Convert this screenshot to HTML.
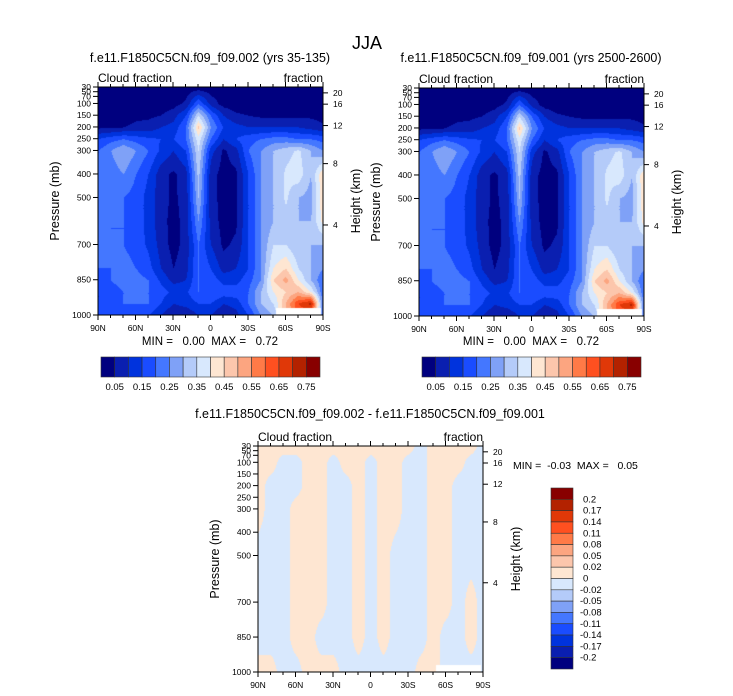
<!DOCTYPE html>
<html><head><meta charset="utf-8"><style>
body{margin:0;background:#fff;width:733px;height:696px;overflow:hidden;position:relative;font-family:"Liberation Sans",sans-serif}
canvas{position:absolute}
svg{position:absolute;left:0;top:0}
text{font-family:"Liberation Sans",sans-serif;fill:#000;white-space:pre}
</style></head><body>
<canvas id="f1" style="left:98px;top:87px" width="225" height="228"></canvas>
<canvas id="f2" style="left:419px;top:88px" width="225" height="228"></canvas>
<canvas id="f3" style="left:258px;top:446px" width="225" height="226"></canvas>
<svg id="s" width="733" height="696"></svg>
<script>
// ---- data ----
const lats = [90,80,70,60,50,40,30,20,10,0,-10,-20,-30,-40,-50,-60,-70,-80,-90];
const plevs = [30,100,150,200,250,300,400,500,600,700,800,850,900,950,1000];
const cloud = [
[.02,.02,.02,.02,.02,.02,.02,.02,.02,.02,.02,.02,.02,.02,.02,.02,.02,.02,.02],
[.02,.02,.02,.02,.02,.02,.03,.06,.2,.08,.03,.02,.02,.02,.02,.02,.02,.02,.02],
[.03,.03,.03,.04,.04,.05,.08,.15,.35,.2,.1,.06,.05,.04,.04,.04,.04,.04,.03],
[.04,.04,.05,.06,.07,.1,.12,.2,.46,.25,.15,.12,.1,.1,.1,.1,.1,.08,.06],
[.15,.18,.2,.18,.16,.15,.15,.2,.38,.2,.1,.15,.18,.2,.22,.22,.2,.2,.18],
[.2,.25,.3,.25,.2,.14,.1,.15,.35,.12,.04,.08,.2,.25,.3,.33,.36,.3,.25],
[.2,.22,.25,.2,.15,.07,.04,.08,.32,.07,.03,.04,.15,.25,.3,.36,.38,.3,.45],
[.2,.2,.2,.18,.13,.07,.04,.07,.3,.07,.03,.04,.15,.25,.3,.36,.3,.28,.45],
[.22,.2,.2,.18,.13,.07,.03,.07,.25,.08,.03,.04,.15,.25,.3,.33,.3,.3,.42],
[.22,.2,.2,.18,.14,.08,.03,.07,.2,.1,.04,.06,.15,.25,.35,.35,.3,.3,.3],
[.2,.2,.22,.2,.17,.1,.05,.08,.2,.15,.08,.1,.15,.25,.4,.45,.35,.3,.25],
[.18,.2,.22,.22,.2,.14,.08,.1,.2,.18,.13,.13,.18,.25,.45,.52,.4,.3,.2],
[.15,.18,.2,.22,.2,.17,.14,.14,.2,.2,.18,.18,.2,.3,.4,.45,.5,.4,.2],
[.15,.18,.2,.2,.2,.15,.1,.12,.15,.15,.1,.12,.2,.3,.35,.5,.65,.72,.2],
[.15,.15,.18,.18,.15,.1,.05,.05,.1,.1,.05,.08,.15,.25,.3,.5,.6,.6,.2]];
const dplevs = [30,100,200,300,500,700,850,1000];
const diff = [
[1,1,1,1,1,1,1,1,1,1,1,1,1,-1,1,1,1,1,-1],
[1,1,-1,-1,1,1,-1,1,1,-1,1,1,-1,-1,1,1,1,-1,-1],
[1,-1,-1,-1,1,1,-1,-1,1,-1,1,1,-1,-1,1,1,-1,-1,-1],
[1,-1,-1,1,1,1,-1,-1,1,-1,1,1,-1,-1,1,1,-1,-1,-1],
[-1,-1,-1,1,1,1,-1,-1,1,-1,1,-1,-1,-1,1,1,-1,-1,-1],
[-1,-1,-1,1,1,1,-1,-1,1,-1,1,-1,-1,-1,1,1,-1,1,-1],
[-1,-1,-1,1,1,-1,-1,-1,1,-1,1,-1,-1,-1,1,-1,-1,1,-1],
[1,1,-1,-1,1,1,1,-1,-1,-1,-1,-1,-1,1,1,-1,-1,-1,-1]];
const cloudLevels = [.05,.1,.15,.2,.25,.3,.35,.4,.45,.5,.55,.6,.65,.7,.75];
const cloudTickLabels = ['0.05','0.15','0.25','0.35','0.45','0.55','0.65','0.75'];
const diffLevels = [-.2,-.17,-.14,-.11,-.08,-.05,-.02,0,.02,.05,.08,.11,.14,.17,.2];
const diffTickLabels = ['-0.2','-0.17','-0.14','-0.11','-0.08','-0.05','-0.02','0','0.02','0.05','0.08','0.11','0.14','0.17','0.2'];
const pTicks = [30,50,70,100,150,200,250,300,400,500,700,850,1000];
const latTicks = [90,60,30,0,-30,-60,-90];
const latTickLabels = ['90N','60N','30N','0','30S','60S','90S'];
const hTicks = [20,16,12,8,4];
const hTickP = [55,103,194,356,617];
const colors = ['#00007f','#0a1fb0','#0033dd','#1a4cff','#4477ff','#7fa1f7','#b4cbf9','#d8e8fd','#fee6d2','#fcc6ac','#fca580','#ff7a47','#ff5020','#e03808','#b32200','#880000'];
// ---- rendering ----
function hex(c){return [parseInt(c.substr(1,2),16),parseInt(c.substr(3,2),16),parseInt(c.substr(5,2),16)];}
const rgb = colors.map(hex);
function interp(grid,levs,lat,p){
  let fi=(90-lat)/10; let i0=Math.min(17,Math.floor(fi)); let tx=fi-i0;
  let j0=0; while(j0<levs.length-2 && p>levs[j0+1]) j0++;
  let ty=(p-levs[j0])/(levs[j0+1]-levs[j0]); ty=Math.max(0,Math.min(1,ty));
  const a=grid[j0][i0],b=grid[j0][i0+1],c=grid[j0+1][i0],d=grid[j0+1][i0+1];
  return (a*(1-tx)+b*tx)*(1-ty)+(c*(1-tx)+d*tx)*ty;
}
function drawField(id,grid,levs,levels,scale){
  const cv=document.getElementById(id),ctx=cv.getContext('2d'),W=cv.width,H=cv.height;
  const img=ctx.createImageData(W,H);
  for(let y=0;y<H;y++){const p=30+y/H*970;
    for(let x=0;x<W;x++){const lat=90-x/W*180;
      const v=interp(grid,levs,lat,p)*scale; let k=0; while(k<levels.length && v>=levels[k]) k++;
      let c=rgb[k]; if(p>968 && lat<-52 && lat>-88) c=[255,255,255];
      const o=(y*W+x)*4; img.data[o]=c[0];img.data[o+1]=c[1];img.data[o+2]=c[2];img.data[o+3]=255;}}
  ctx.putImageData(img,0,0);
}
drawField('f1',cloud,plevs,cloudLevels,1);
drawField('f2',cloud,plevs,cloudLevels,1);
drawField('f3',diff,dplevs,diffLevels,0.01);
const S=document.getElementById('s'),NS='http://www.w3.org/2000/svg';
function el(tag,attrs,txt){const e=document.createElementNS(NS,tag);for(const k in attrs)e.setAttribute(k,attrs[k]);if(txt!==undefined)e.textContent=txt;S.appendChild(e);return e;}
function tx(x,y,s,size,anchor,name,rot){const e=el('text',{x:x,y:y,'font-size':size,'text-anchor':anchor||'middle'},s);
  
  
  if(rot)e.setAttribute('transform','rotate(-90 '+x+' '+y+')');return e;}
tx(367,49,'JJA',18,'middle','main-title');
function panel(x0,y0,w,h,title,ttlX,ttlY,ylX,hlX,pre){
  const X=lat=>x0+(90-lat)/180*w, Y=p=>y0+(p-30)/970*h;
  tx(ttlX,ttlY,title,12.5,'middle',pre+'-title');
  tx(x0,y0-5,'Cloud fraction',12,'start',pre+'-left-string');
  tx(x0+w,y0-5,'fraction',12,'end',pre+'-right-string');
  const r=el('rect',{x:x0,y:y0,width:w,height:h,fill:'none',stroke:'#000','stroke-width':1});
  
  
  pTicks.forEach(p=>{el('line',{x1:x0-5,x2:x0,y1:Y(p),y2:Y(p),stroke:'#000'});
    tx(x0-7,Y(p)+3,String(p),8.5,'end',pre+'-y-tick-label');});
  latTicks.forEach((lt,i)=>{el('line',{x1:X(lt),x2:X(lt),y1:y0+h,y2:y0+h+5,stroke:'#000'});
    el('line',{x1:X(lt),x2:X(lt),y1:y0,y2:y0-5,stroke:'#000'});
    tx(X(lt),y0+h+16,latTickLabels[i],8.5,'middle',pre+'-x-tick-label');});
  for(let lt=80;lt>-90;lt-=10){if(lt%30){el('line',{x1:X(lt),x2:X(lt),y1:y0+h,y2:y0+h+3,stroke:'#000'});el('line',{x1:X(lt),x2:X(lt),y1:y0,y2:y0-3,stroke:'#000'});}}
  hTicks.forEach((hh,i)=>{const y=Y(hTickP[i]);el('line',{x1:x0+w,x2:x0+w+5,y1:y,y2:y,stroke:'#000'});
    tx(x0+w+10,y+3,String(hh),8.5,'start',pre+'-height-tick-label');});
  tx(ylX,y0+h/2,'Pressure (mb)',12.5,'middle',pre+'-y-axis-title',true);
  tx(hlX,y0+h/2,'Height (km)',12.5,'middle',pre+'-height-axis-title',true);
}
panel(98,87,225,228,'f.e11.F1850C5CN.f09_f09.002 (yrs 35-135)',210,62,59,360,'left');
panel(419,88,225,228,'f.e11.F1850C5CN.f09_f09.001 (yrs 2500-2600)',531,62,380,681,'right');
panel(258,446,225,226,'f.e11.F1850C5CN.f09_f09.002 - f.e11.F1850C5CN.f09_f09.001',370,418,219,520,'diff');
tx(210,345,'MIN =   0.00  MAX =   0.72',11.5,'middle','left-minmax');
tx(531,345,'MIN =   0.00  MAX =   0.72',11.5,'middle','right-minmax');
tx(513,469,'MIN =  -0.03  MAX =   0.05',10.5,'start','diff-minmax');
function hbar(x0,y0,w,h,pre){const bw=w/colors.length;
  colors.forEach((c,i)=>{const r=el('rect',{x:x0+i*bw,y:y0,width:bw,height:h,fill:c,stroke:'#333','stroke-width':0.6});
    
    });
  cloudTickLabels.forEach((l,i)=>tx(x0+(2*i+1)*bw,y0+h+13,l,9.5,'middle',pre+'-colorbar-label'));}
hbar(101,357,219,20,'left');hbar(422,357,219,20,'right');
(function(){const x0=551,y0=488,w=22,h=181,bh=h/colors.length;
  colors.slice().reverse().forEach((c,i)=>{const r=el('rect',{x:x0,y:y0+i*bh,width:w,height:bh,fill:c,stroke:'#333','stroke-width':0.6});
    
    });
  diffTickLabels.slice().reverse().forEach((l,i)=>tx(l.startsWith('-')?580:583,y0+(i+1)*bh+3,l,9.5,'start','diff-colorbar-label'));})();
</script>
</body></html>
